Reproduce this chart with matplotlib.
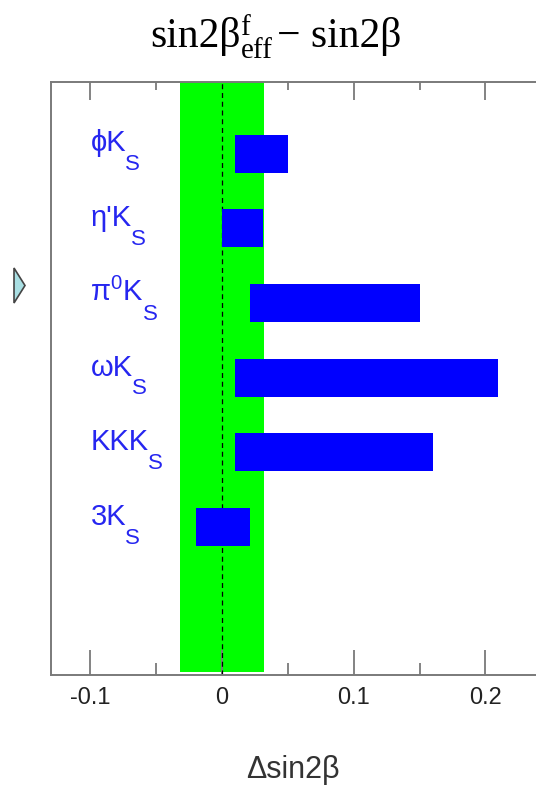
import numpy as np
import matplotlib
matplotlib.use("Agg")
import matplotlib.pyplot as plt
from matplotlib.patches import Polygon

plt.rcParams["font.family"] = ["Liberation Sans", "DejaVu Sans"]

# decay modes (main label, subscript) and the deviation ranges
modes = ["ϕK", "η'K", r"π$^{\mathregular{0}}$K", "ωK", "KKK", "3K"]
mode_sub = ["S", "S", "S", "S", "S", "S"]
dev_low = [0.010, 0.000, 0.021, 0.010, 0.010, -0.020]
dev_high = [0.050, 0.031, 0.150, 0.210, 0.160, 0.021]
band_low, band_high = -0.032, 0.032
major_ticks = [-0.1, 0.0, 0.1, 0.2]
tick_labels = ["-0.1", "0", "0.1", "0.2"]
minor_ticks = [-0.05, 0.05, 0.15]

fig = plt.figure(figsize=[5.36, 7.90], dpi=100)
ax = fig.add_axes([51 / 536, 1 - 675 / 790, 1 - 51 / 536, (675 - 82) / 790])

ypos = np.arange(len(modes), 0, -1)
ax.axvspan(band_low, band_high, ymin=0.005, ymax=1, color="#00ff00", lw=0, zorder=1)
ax.axvline(0, color="black", lw=0.9, ls=(0, (4, 3)), zorder=2)
ax.barh(ypos, np.array(dev_high) - np.array(dev_low), left=dev_low, height=0.51,
        color="#0000ff", zorder=3)

# mode labels with a dropped subscript
for y, name, sub in zip(ypos, modes, mode_sub):
    t = ax.text(-0.1, y + 0.03, name, fontsize=21, color="#2626f0", va="baseline", ha="left")
    ax.annotate(sub, xy=(1, y + 0.03), xycoords=(t, "data"), xytext=(-0.5, -13.5),
                textcoords="offset points", fontsize=16, color="#2626f0",
                va="baseline", ha="left")

ax.set_xlim(-0.13, 0.2385)
ax.set_ylim(-0.98, 6.96)
ax.set_yticks([])

for side in ["left", "bottom", "top"]:
    ax.spines[side].set_color("#7a7a7a")
    ax.spines[side].set_linewidth(1.4)
ax.spines["right"].set_visible(False)

ax.set_xticks(major_ticks)
ax.set_xticklabels(tick_labels)
ax.set_xticks(minor_ticks, minor=True)
ax.tick_params(axis="x", which="major", direction="in", length=18, width=1.3,
               color="#7a7a7a", labelsize=17, labelcolor="#222222", pad=9)
ax.tick_params(axis="x", which="minor", direction="in", length=9, width=1.3,
               color="#7a7a7a")

top = ax.secondary_xaxis("top")
top.set_xticks(major_ticks)
top.set_xticklabels([])
top.set_xticks(minor_ticks, minor=True)
top.tick_params(which="major", direction="in", length=13, width=1.3, color="#7a7a7a")
top.tick_params(which="minor", direction="in", length=6, width=1.3, color="#7a7a7a")
top.spines["top"].set_visible(False)

# title built from pieces so the f / eff indices stack over each other
serif = ["Liberation Serif", "DejaVu Serif"]
yb = 1 - 47 / 790
t1 = fig.text(150 / 536, yb, "sin2β", family=serif, fontsize=30, va="baseline", ha="left")
idx = plt.annotate("f\neff", xy=(1, yb), xycoords=(t1, "figure fraction"), xytext=(0, -8),
                   textcoords="offset points", family=serif, fontsize=21, linespacing=0.85,
                   va="baseline", ha="left", annotation_clip=False)
plt.annotate("− sin2β", xy=(1, yb), xycoords=(idx, "figure fraction"), xytext=(3, 0),
             textcoords="offset points", family=serif, fontsize=30,
             va="baseline", ha="left", annotation_clip=False)

fig.text(293 / 536, 1 - 778 / 790, "Δsin2β", fontsize=22, color="#333333",
         ha="center", va="baseline")

# small navigation arrow on the left edge
arrow = Polygon([(14 / 536, 1 - 268 / 790), (25 / 536, 1 - 285.5 / 790),
                 (14 / 536, 1 - 303 / 790)], closed=True, transform=fig.transFigure,
                facecolor="#a9dfe3", edgecolor="#444444", lw=1.2)
fig.patches.append(arrow)

fig.savefig("out.png", dpi=100)
